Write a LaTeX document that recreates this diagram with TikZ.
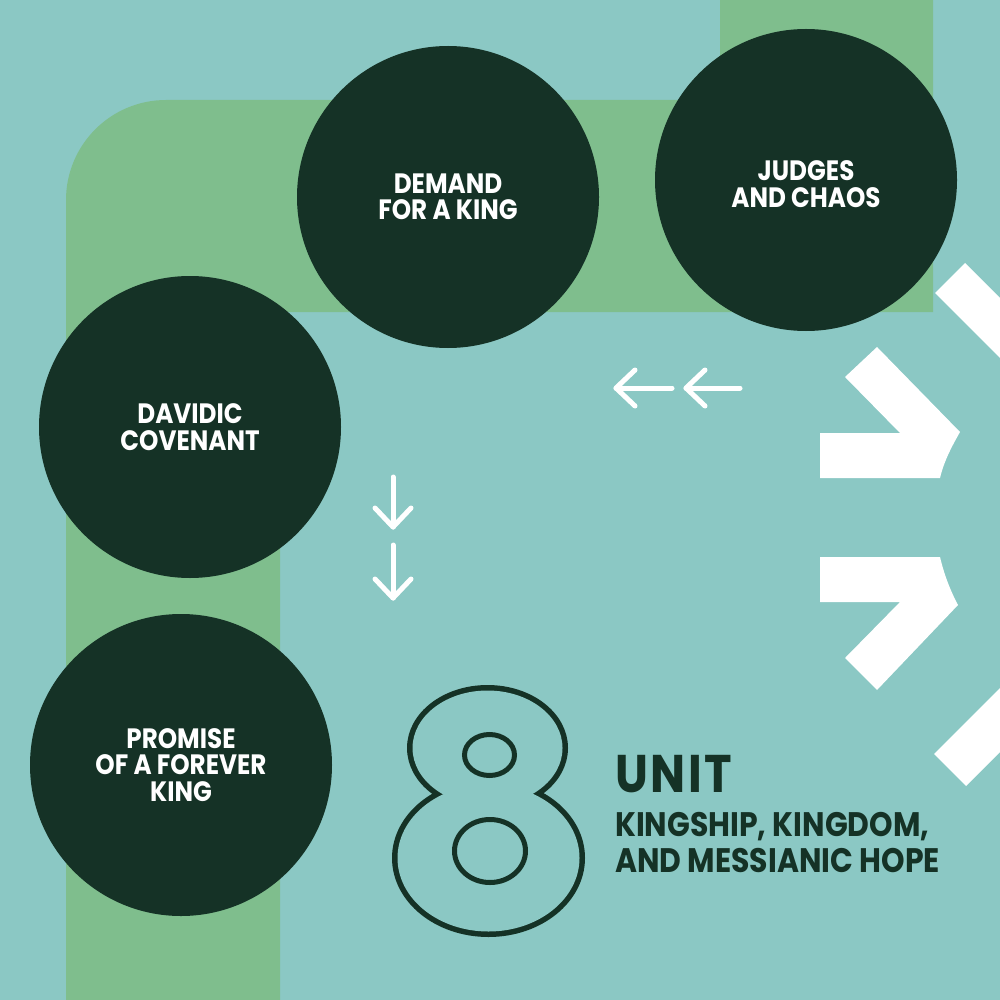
\documentclass[tikz,border=0pt]{standalone}
\usepackage{fontspec}
\newfontfamily\hf{Poppins}[FakeStretch=0.88]
\definecolor{bg}{HTML}{8BC8C4}
\definecolor{band}{HTML}{7FBE8D}
\definecolor{dark}{HTML}{153226}
\tikzset{
  circ/.style={circle, fill=dark, minimum size=302pt, inner sep=0pt, align=center,
    text=white, font=\hf\bfseries\fontsize{28}{26.5}\selectfont},
  ctext/.style={inner sep=0pt, align=center, text=white, font=\hf\bfseries\fontsize{28}{26.5}\selectfont},
  warrow/.style={draw=white, line width=5pt, line cap=round, line join=round},
  chev/.style={fill=white},
  lbl/.style={anchor=base west, inner sep=0pt, text=dark}
}
\begin{document}
\begin{tikzpicture}[x=1pt,y=-1pt]
\useasboundingbox (0,0) rectangle (1000,1000);
\fill[bg] (0,0) rectangle (1000,1000);
% green band
\fill[band] (66,1000) -- (66,200) .. controls (66,144.8) and (110.8,100) .. (166,100)
  -- (720,100) -- (720,0) -- (933,0) -- (933,312) -- (280,312) -- (280,1000) -- cycle;
% circles
\node[circ] (judges) at (806,180) {};
\node[ctext] (judgesText) at (806,184) {JUDGES\\AND CHAOS};
\node[circ] (demand) at (448,197) {DEMAND\\FOR A KING};
\node[circ] (davidic) at (190,427) {DAVIDIC\\COVENANT};
\node[circ] (promise) at (181,765) {PROMISE\\OF A FOREVER\\KING};
% white chevrons
\fill[chev] (965,263) -- (1000,298) -- (1000,358) -- (935,293) -- cycle;
\fill[chev] (877,347) -- (960,432) .. controls (952,446) and (944,461) .. (940,478)
  -- (820,478) -- (820,433) -- (900,433) -- (845,377) -- cycle;
\fill[chev] (820,557) -- (940,557) .. controls (944,574) and (950,590) .. (958,605)
  -- (877,690) -- (845,658) -- (900,602) -- (820,602) -- cycle;
\fill[chev] (934,754) -- (1000,688) -- (1000,752) -- (966,786) -- cycle;
% arrows
\coordinate (l1s) at (672,388); \coordinate (l1t) at (616,388);
\coordinate (l2s) at (740,388); \coordinate (l2t) at (686,388);
\coordinate (d1s) at (393,477); \coordinate (d1t) at (393,527);
\coordinate (d2s) at (393,545); \coordinate (d2t) at (393,598);
\draw[warrow] (l1s) -- (l1t); \draw[warrow] (l1t) ++(19,-18) -- (l1t) -- ++(19,18);
\draw[warrow] (l2s) -- (l2t); \draw[warrow] (l2t) ++(19,-18) -- (l2t) -- ++(19,18);
\draw[warrow] (d1s) -- (d1t); \draw[warrow] (d1t) ++(-18,-19) -- (d1t) -- ++(18,-19);
\draw[warrow] (d2s) -- (d2t); \draw[warrow] (d2t) ++(-18,-19) -- (d2t) -- ++(18,-19);
% the outlined 8
\draw[dark, line width=11pt] (487.5,748) ellipse[x radius=75, y radius=57.5];
\draw[dark, line width=11pt] (488.5,858) ellipse[x radius=91, y radius=73.5];
\fill[bg] (487.5,748) ellipse[x radius=75, y radius=57.5];
\fill[bg] (488.5,858) ellipse[x radius=91, y radius=73.5];
\draw[dark, line width=5pt] (489.5,755) ellipse[x radius=25, y radius=20.5];
\draw[dark, line width=5pt] (490,851) ellipse[x radius=35.5, y radius=31.5];
% titles
\node[lbl, font=\hf\bfseries\fontsize{53}{53}\selectfont\addfontfeatures{LetterSpace=5}] (unit) at (615,792) {UNIT};
\node[lbl, font=\hf\bfseries\fontsize{34}{34}\selectfont] (sub1) at (615,836) {KINGSHIP, KINGDOM,};
\node[lbl, font=\hf\bfseries\fontsize{34}{34}\selectfont] (sub2) at (615,872) {AND MESSIANIC HOPE};
\end{tikzpicture}
\end{document}
